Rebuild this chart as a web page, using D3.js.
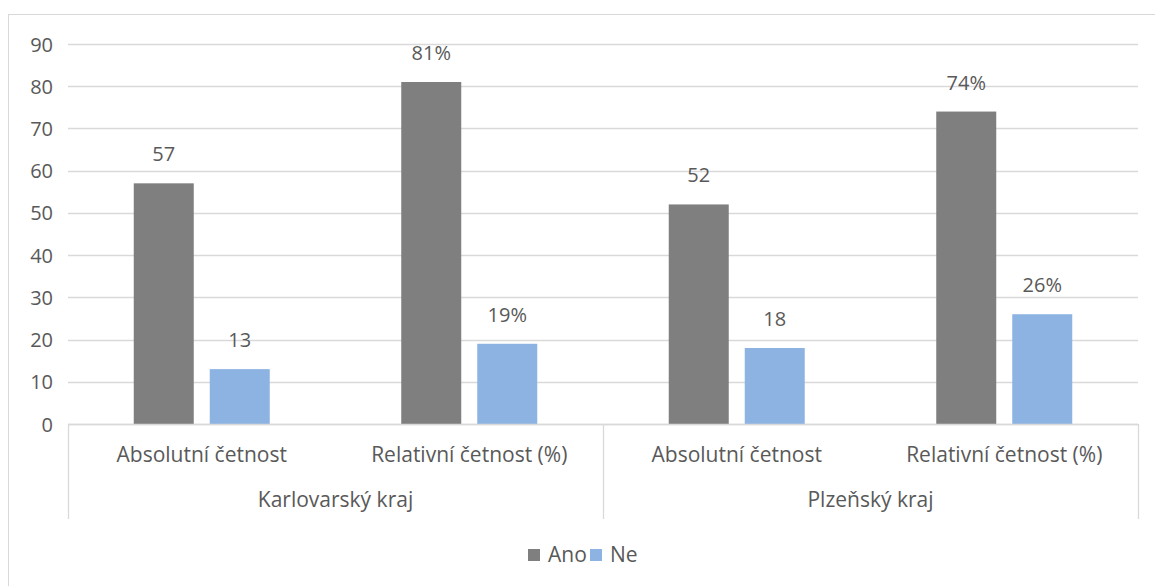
<!DOCTYPE html>
<html>
<head>
<meta charset="utf-8">
<script src="https://cdn.jsdelivr.net/npm/d3@7"></script>
<style>
  html, body { margin: 0; padding: 0; background: #fff; }
  svg { display: block; }
  text { font-family: "Open Sans", sans-serif; fill: #595959; }
</style>
</head>
<body>
<svg id="chart" width="1155" height="586"></svg>
<script>
// Survey answers per region: absolute counts and relative shares (%)
const regions = ["Karlovarský kraj", "Plzeňský kraj"];
const measures = ["Absolutní četnost", "Relativní četnost (%)"];
const seriesNames = ["Ano", "Ne"];
const anoValues = [57, 81, 52, 74];
const neValues = [13, 19, 18, 26];
const valueSuffix = ["", "%", "", "%"];
const yTicks = [0, 10, 20, 30, 40, 50, 60, 70, 80, 90];
const colors = { Ano: "#7f7f7f", Ne: "#8db3e2" };

const FONT = 20;
const LABEL_FONT = 21;
const svg = d3.select("#chart");
const plot = { left: 68, right: 1138, top: 44, bottom: 424 };

// Chart frame
svg.append("rect")
  .attr("x", 8.5).attr("y", 14.5)
  .attr("width", 1160).attr("height", 600)
  .attr("fill", "none").attr("stroke", "#d9d9d9").attr("stroke-width", 1);

// Flat list of categories (region × measure)
const cats = [];
regions.forEach((r, ri) => measures.forEach((m, mi) => cats.push({ region: r, measure: m, key: ri + "|" + mi })));

const x = d3.scaleBand().domain(cats.map(c => c.key)).range([plot.left, plot.right]);
const barW = 60, barGap = 16;
const innerStart = (x.bandwidth() - (2 * barW + barGap)) / 2;
const xInner = d3.scaleBand().domain(seriesNames)
  .range([innerStart, innerStart + 2 * barW + barGap])
  .paddingInner(barGap / (barW + barGap)).paddingOuter(0);
const y = d3.scaleLinear().domain([0, 90]).range([plot.bottom, plot.top]);

// Gridlines
svg.append("g").selectAll("line").data(yTicks).join("line")
  .attr("x1", plot.left).attr("x2", plot.right)
  .attr("y1", d => Math.round(y(d)) + 0.5).attr("y2", d => Math.round(y(d)) + 0.5)
  .attr("stroke", "#d9d9d9").attr("stroke-width", 1.3);

// Y axis labels
const yAxis = d3.axisLeft(y).tickValues(yTicks).tickSize(0).tickPadding(0);
const yg = svg.append("g").attr("transform", `translate(${plot.left - 15},0)`).call(yAxis);
yg.select(".domain").remove();
yg.selectAll("text").style("font-size", FONT + "px").attr("fill", "#595959")
  .style("font-family", "'Open Sans', sans-serif").attr("dy", "0.35em");

// Bars
const rows = cats.map((c, i) => ({ key: c.key, Ano: anoValues[i], Ne: neValues[i], suffix: valueSuffix[i] }));
const groups = svg.append("g").selectAll("g").data(rows).join("g")
  .attr("transform", d => `translate(${x(d.key)},0)`);

groups.selectAll("rect").data(d => seriesNames.map(s => ({ s, v: d[s] }))).join("rect")
  .attr("x", d => xInner(d.s)).attr("width", xInner.bandwidth())
  .attr("y", d => y(d.v)).attr("height", d => y(0) - y(d.v))
  .attr("fill", d => colors[d.s]);

// Value labels
groups.selectAll("text.val").data(d => seriesNames.map(s => ({ s, v: d[s], suffix: d.suffix }))).join("text")
  .attr("class", "val")
  .attr("x", d => xInner(d.s) + xInner.bandwidth() / 2)
  .attr("y", d => y(d.v) - 22)
  .attr("text-anchor", "middle")
  .style("font-size", FONT + "px").attr("fill", "#404040")
  .text(d => d.v + d.suffix);

// Axis baseline
svg.append("line").attr("x1", plot.left).attr("x2", plot.right)
  .attr("y1", plot.bottom + 0.5).attr("y2", plot.bottom + 0.5)
  .attr("stroke", "#d9d9d9").attr("stroke-width", 1.3);

// Region dividers
const regionEdges = [plot.left, (plot.left + plot.right) / 2, plot.right];
svg.append("g").selectAll("line").data(regionEdges).join("line")
  .attr("x1", d => Math.round(d) + 0.5).attr("x2", d => Math.round(d) + 0.5)
  .attr("y1", plot.bottom).attr("y2", 519)
  .attr("stroke", "#d9d9d9").attr("stroke-width", 1.3);

// Measure labels
svg.append("g").selectAll("text").data(cats).join("text")
  .attr("x", d => x(d.key) + x.bandwidth() / 2)
  .attr("y", 462)
  .attr("text-anchor", "middle")
  .style("font-size", LABEL_FONT + "px")
  .text(d => d.measure);

// Region labels
svg.append("g").selectAll("text").data(regions).join("text")
  .attr("x", (d, i) => (regionEdges[i] + regionEdges[i + 1]) / 2)
  .attr("y", 507)
  .attr("text-anchor", "middle")
  .style("font-size", LABEL_FONT + "px")
  .text(d => d);

// Legend
const legend = svg.append("g").attr("transform", "translate(528,549)");
const items = [{ name: "Ano", x: 0 }, { name: "Ne", x: 62 }];
const li = legend.selectAll("g").data(items).join("g").attr("transform", d => `translate(${d.x},0)`);
li.append("rect").attr("width", 12).attr("height", 12).attr("fill", d => colors[d.name]);
li.append("text").attr("x", 20).attr("y", 13).style("font-size", LABEL_FONT + "px").text(d => d.name);
</script>
</body>
</html>
